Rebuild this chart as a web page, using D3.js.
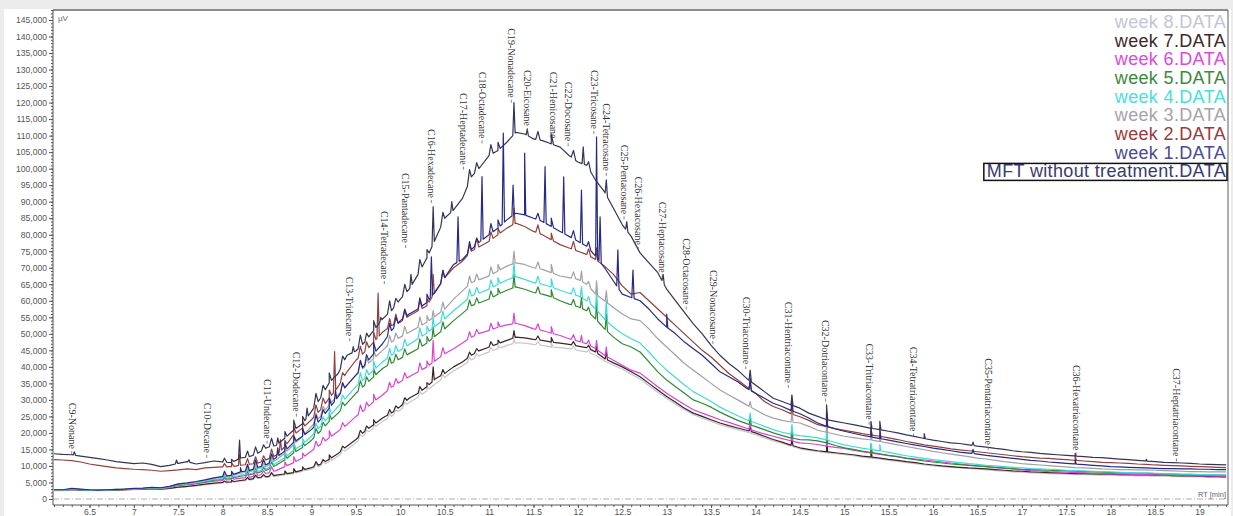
<!DOCTYPE html>
<html>
<head>
<meta charset="utf-8">
<script src="https://cdn.jsdelivr.net/npm/d3@7"></script>
<style>
body { margin: 0; background: #ececec; }
svg { display: block; }
</style>
</head>
<body>
<svg id="chart" width="1233" height="516"></svg>
<script>
// sampling grid of the traces (retention time, min)
const rtStart = 6.1, rtStep = 0.1;

// trace values, thousand uV, one every 0.1 min from 6.1 to 19.3
const mft = [13.7,13.5,13.4,13.0,12.6,12.2,11.8,11.3,11.0,10.7,
  10.9,10.5,9.8,10.2,10.8,11.3,10.6,11.0,11.5,11.2,
  11.0,12.4,12.8,13.9,15.6,16.2,18.4,20.9,22.8,26.5,
  30.5,35.2,38.0,43.5,44.8,47.5,51.0,54.5,57.0,60.5,
  63.5,68.0,73.0,79.0,85.0,87.5,91.0,97.5,100.5,104.0,
  105.5,108.0,111.0,110.5,109.0,108.5,107.5,106.5,104.0,102.0,
  101.0,96.5,93.0,88.0,83.0,79.5,74.5,71.5,68.5,63.5,
  60.0,56.5,53.0,50.0,46.5,43.5,41.0,39.0,36.5,34.5,
  32.5,30.5,29.5,28.5,27.5,26.0,25.0,24.0,23.5,23.0,
  22.5,22.0,21.4,21.0,20.5,20.0,19.4,18.9,18.3,17.8,
  17.4,17.0,16.8,16.4,16.0,15.7,15.3,15.0,14.6,14.3,
  14.1,13.8,13.6,13.4,13.2,13.0,12.8,12.6,12.5,12.3,
  12.1,11.9,11.7,11.5,11.3,11.1,11.0,10.9,10.8,10.6,
  10.5,10.4,10.3];
const week1 = [2.8,2.8,3.2,3.0,2.8,2.7,2.8,2.9,3.0,3.2,
  3.3,3.5,3.4,3.8,4.6,4.9,5.3,5.8,6.4,6.8,
  7.2,8.2,8.6,9.6,10.5,12.5,14.5,17.2,19.0,21.0,
  24.0,27.5,31.0,34.5,37.5,40.5,44.0,47.0,51.0,54.0,
  56.0,57.5,59.5,63.0,67.0,71.0,72.5,75.5,78.0,80.0,
  82.0,84.5,86.5,86.0,85.0,84.0,82.5,81.0,79.5,78.0,
  76.5,73.5,70.0,66.0,62.0,61.0,60.0,57.5,54.5,52.0,
  50.0,47.5,45.5,43.5,41.0,38.5,37.0,35.5,33.5,32.0,
  30.5,29.0,28.0,26.8,25.8,24.5,23.0,22.0,21.2,20.5,
  19.9,19.3,18.8,18.3,17.8,17.3,16.8,16.3,15.9,15.4,
  15.0,14.6,14.2,13.9,13.6,13.2,12.9,12.6,12.3,12.0,
  11.7,11.5,11.2,11.0,10.8,10.6,10.4,10.2,10.0,9.8,
  9.7,9.6,9.5,9.4,9.3,9.2,9.2,9.1,9.1,9.0,
  9.0,8.9,8.9];
const week2 = [11.9,11.8,11.6,11.2,10.6,10.2,9.8,9.4,9.2,9.0,
  8.9,8.7,8.4,8.6,8.8,9.1,8.9,9.4,9.6,9.7,
  9.8,10.2,10.5,10.9,12.0,13.2,15.8,19.5,21.5,24.0,
  27.0,30.5,34.0,38.5,42.0,44.5,47.5,50.5,52.5,53.5,
  55.5,57.0,58.5,63.0,67.0,70.0,72.0,75.0,76.5,78.0,
  80.0,82.0,83.5,82.5,81.0,80.0,78.5,77.0,76.0,75.0,
  74.0,72.5,70.5,68.0,64.5,62.0,62.5,60.0,57.5,55.0,
  52.5,50.0,47.5,45.0,43.0,40.5,38.0,36.0,34.0,32.0,
  29.5,28.0,27.0,25.8,24.9,23.8,22.5,21.9,21.3,20.8,
  20.3,19.8,19.4,19.0,18.5,18.0,17.4,16.9,16.4,16.0,
  15.6,15.2,14.9,14.6,14.3,14.0,13.7,13.4,13.1,12.8,
  12.6,12.4,12.3,12.1,11.9,11.7,11.5,11.3,11.1,11.0,
  10.9,10.8,10.6,10.5,10.3,10.2,10.1,10.0,9.9,9.8,
  9.7,9.6,9.5];
const week3 = [2.7,2.7,3.1,2.9,2.8,2.7,2.8,2.9,3.0,3.1,
  3.2,3.4,3.3,3.7,4.5,4.7,5.1,5.6,6.2,6.7,
  7.0,7.8,8.2,9.2,10.0,11.8,13.8,16.5,19.0,22.0,
  25.0,28.5,31.5,34.5,37.5,40.0,42.5,45.0,47.5,49.0,
  50.5,52.0,53.5,55.5,57.5,60.5,63.0,65.5,66.5,67.5,
  69.0,70.5,71.5,71.0,70.0,69.5,68.5,67.5,67.0,66.5,
  65.0,62.0,60.0,58.0,56.0,54.5,54.0,51.5,48.5,46.0,
  43.5,41.0,39.0,37.0,35.0,33.0,31.5,30.0,28.5,27.0,
  25.5,24.5,23.8,23.3,23.0,22.0,20.8,20.2,19.6,19.0,
  18.6,18.2,17.9,17.4,16.9,16.4,15.9,15.4,14.9,14.4,
  14.0,13.6,13.2,12.8,12.4,12.1,11.7,11.3,11.0,10.7,
  10.5,10.3,10.1,9.9,9.7,9.5,9.4,9.3,9.1,9.0,
  8.9,8.9,8.8,8.8,8.7,8.6,8.5,8.4,8.3,8.3,
  8.2,8.2,8.2];
const week4 = [2.6,2.6,3.0,2.8,2.7,2.6,2.7,2.8,2.9,3.0,
  3.1,3.3,3.2,3.6,4.4,4.6,4.9,5.4,5.9,6.2,
  6.5,7.2,7.6,8.4,9.2,10.8,12.5,14.8,16.5,19.0,
  22.0,25.0,28.0,31.0,34.0,36.5,39.0,41.5,43.5,45.0,
  46.8,48.5,50.2,52.5,54.5,57.0,59.2,61.5,62.5,63.5,
  65.0,66.3,67.3,66.5,65.5,65.0,64.2,63.2,62.3,61.5,
  60.0,57.5,54.5,52.0,50.0,48.5,47.2,44.5,41.5,39.0,
  36.8,34.5,32.5,31.0,29.5,27.8,26.5,25.2,24.0,23.0,
  22.0,21.0,20.2,19.6,19.2,18.9,18.5,17.9,17.1,16.4,
  15.9,15.4,15.0,14.6,14.1,13.6,13.1,12.7,12.3,11.9,
  11.6,11.3,11.0,10.7,10.5,10.2,10.0,9.8,9.6,9.4,
  9.2,9.1,9.0,8.9,8.7,8.6,8.5,8.4,8.3,8.2,
  8.1,8.0,7.9,7.9,7.8,7.7,7.6,7.5,7.5,7.4,
  7.4,7.3,7.3];
const week5 = [2.6,2.6,2.9,2.8,2.7,2.6,2.7,2.8,2.9,3.0,
  3.1,3.2,3.2,3.5,4.3,4.5,4.8,5.2,5.7,6.0,
  6.3,6.9,7.3,8.0,8.8,10.2,11.8,14.0,15.6,17.8,
  20.5,23.5,26.0,29.0,32.0,34.5,37.0,39.5,41.1,42.5,
  44.0,45.5,47.2,49.5,51.5,54.0,56.2,58.5,59.5,60.5,
  62.0,63.2,64.2,63.5,62.5,62.0,61.2,60.0,59.0,58.2,
  57.0,54.5,51.5,49.0,47.0,46.0,44.5,41.5,38.5,36.0,
  34.0,32.0,30.0,29.0,27.8,26.3,25.0,23.8,22.8,21.9,
  21.0,20.0,19.2,18.5,18.0,17.9,17.6,17.0,16.2,15.5,
  15.0,14.5,14.1,13.7,13.2,12.8,12.3,11.9,11.5,11.2,
  10.9,10.6,10.4,10.2,10.0,9.8,9.6,9.4,9.2,9.0,
  8.9,8.8,8.7,8.6,8.5,8.4,8.3,8.2,8.1,8.0,
  7.9,7.9,7.8,7.8,7.7,7.6,7.5,7.4,7.4,7.3,
  7.3,7.2,7.2];
const week6 = [2.6,2.6,2.9,2.8,2.7,2.6,2.7,2.8,2.9,3.0,
  3.1,3.2,3.1,3.4,4.1,4.3,4.6,5.0,5.4,5.6,
  5.9,6.3,6.6,7.2,7.8,8.6,9.8,11.0,12.5,14.5,
  16.5,18.5,20.5,22.5,25.0,27.0,29.5,31.5,33.8,35.5,
  37.0,38.5,40.0,42.0,44.0,45.5,47.2,49.0,50.2,51.0,
  52.0,52.7,53.2,52.5,51.5,51.0,50.2,49.5,48.5,47.8,
  47.0,45.5,43.5,42.0,40.5,39.0,38.1,36.0,34.0,32.0,
  30.3,28.6,27.0,26.0,25.0,24.0,23.2,22.3,21.4,20.5,
  19.7,19.0,18.3,17.6,17.0,16.8,16.5,16.0,15.6,15.3,
  14.8,14.3,13.9,13.5,13.1,12.8,12.4,12.1,11.8,11.5,
  11.2,10.9,10.6,10.3,10.0,9.8,9.5,9.3,9.1,8.8,
  8.6,8.5,8.3,8.2,8.1,8.0,7.9,7.8,7.7,7.6,
  7.5,7.5,7.4,7.4,7.3,7.2,7.2,7.1,7.1,7.0,
  7.0,6.9,6.9];
const week7 = [2.6,2.6,2.9,2.7,2.6,2.6,2.7,2.7,2.8,2.9,
  3.0,3.1,3.0,3.2,3.6,3.8,4.1,4.5,4.8,5.0,
  5.2,5.6,5.9,6.5,6.8,7.2,7.6,8.0,8.8,9.5,
  10.5,12.0,13.8,16.0,18.0,20.5,22.5,24.5,26.0,28.0,
  30.5,32.0,34.0,36.5,38.0,40.0,41.5,43.5,45.0,46.0,
  47.0,48.0,49.0,48.8,48.3,48.0,47.5,47.2,46.8,46.3,
  45.8,44.5,42.5,41.2,40.0,38.5,37.0,35.0,33.0,31.0,
  29.3,27.5,26.0,25.0,24.0,23.0,22.2,21.5,20.8,20.0,
  19.0,18.0,17.2,16.3,15.5,15.0,14.6,14.3,14.0,13.7,
  13.4,13.0,12.7,12.4,12.0,11.7,11.3,11.0,10.6,10.3,
  10.0,9.8,9.6,9.4,9.3,9.1,8.9,8.7,8.5,8.4,
  8.2,8.1,8.0,7.9,7.8,7.7,7.7,7.6,7.5,7.5,
  7.4,7.4,7.3,7.3,7.2,7.2,7.1,7.0,7.0,6.9,
  6.8,6.8,6.7];
const week8 = [2.5,2.5,2.8,2.6,2.5,2.5,2.6,2.6,2.7,2.8,
  2.9,3.0,2.9,3.1,3.5,3.7,4.0,4.3,4.6,4.8,
  5.0,5.4,5.7,6.2,6.5,6.9,7.3,7.7,8.4,9.0,
  10.0,11.3,13.0,15.0,17.0,19.5,21.5,23.5,25.0,27.0,
  29.2,30.8,32.8,35.0,36.8,38.8,40.3,42.1,43.5,44.5,
  45.5,46.5,47.3,47.2,46.8,46.5,46.0,45.8,45.5,45.0,
  44.5,43.5,41.8,40.5,39.3,37.8,36.3,34.3,32.3,30.4,
  28.7,27.0,25.5,24.5,23.5,22.5,21.7,21.0,20.3,19.5,
  18.5,17.6,16.8,16.0,15.2,14.7,14.3,14.0,13.7,13.4,
  13.1,12.7,12.4,12.1,11.7,11.4,11.0,10.7,10.3,10.0,
  9.8,9.6,9.4,9.2,9.0,8.8,8.6,8.4,8.2,8.1,
  7.9,7.8,7.7,7.6,7.5,7.4,7.4,7.3,7.2,7.2,
  7.1,7.1,7.0,7.0,6.9,6.9,6.8,6.8,6.7,6.7,
  6.6,6.6,6.5];

// sharp peaks: [retention time, apex in thousand uV]
const mftPeaks = [[6.33,14.3],[7.48,11.8],[7.62,11.9],[8.19,17.8],[8.62,18.5],[8.95,27.5],[9.47,46.1],
  [9.78,55.0],[10.12,68.0],[10.37,88.5],[10.58,90.0],[11.28,120.0],[11.43,112.0],[12.06,106.6],
  [12.32,96.6],[12.55,84.0],[12.96,68.0],[13.94,39.0],[14.41,31.5],[14.8,28.5],[15.3,23.5],
  [15.4,23.5],[15.9,19.8],[16.45,17.2],[17.6,13.8],[18.4,12.0]];
const week1Peaks = [[8.2,9.5],[8.62,15.5],[9.27,33.0],[10.35,73.3],[10.65,85.4],[10.92,97.6],
  [11.16,110.8],[11.27,95.0],[11.4,104.7],[11.63,100.6],[11.84,97.5],[12.04,93.5],[12.21,109.6],
  [12.25,85.4],[12.45,75.4],[12.62,69.3],[13.0,56.0],[13.94,36.5],[14.41,30.0],[14.8,26.0],
  [15.3,21.5],[15.4,21.5],[16.45,15.0],[17.6,11.8]];
const week2Peaks = [[8.19,13.5],[8.65,18.0],[9.26,44.6],[9.75,62.3],[10.37,68.0],[11.28,88.0],
  [12.21,76.0],[13.94,35.5],[14.41,28.5],[14.8,25.5],[15.3,21.5],[17.6,13.2]];
const week3Peaks = [[10.37,57.0],[11.28,75.0],[12.04,69.0],[12.21,66.0],[12.32,63.0],[13.94,29.5],
  [14.41,26.0],[14.8,24.5],[15.3,20.0],[15.4,19.5]];
const week4Peaks = [[10.37,55.0],[11.28,71.5],[12.04,64.2],[12.21,63.3],[12.32,60.2],[13.94,26.0],
  [14.41,22.5],[14.8,22.5],[15.3,17.0],[15.4,16.5]];
const week5Peaks = [[10.37,52.0],[11.28,68.0],[12.04,61.0],[12.21,60.2],[12.32,56.0],[13.94,24.5],
  [14.41,21.0],[14.8,21.5],[15.3,16.5]];
const week6Peaks = [[10.37,48.0],[11.28,56.3],[12.04,49.5],[12.21,48.0],[12.32,46.0],[13.94,23.0],
  [14.41,19.5],[14.8,20.5],[15.3,16.0]];
const week7Peaks = [[10.37,40.0],[11.28,51.0],[12.21,46.5],[12.32,44.5],[13.94,22.0],[14.41,18.0],
  [14.8,19.0],[15.3,15.0]];
const week8Peaks = [[11.28,48.5],[14.41,16.5],[14.8,17.5]];

// small unresolved humps riding on each trace: shared times, height above trace (thousand uV)
const minorRT = [8.02,8.1,8.28,8.37,8.46,8.55,8.7,8.8,8.9,9.05,9.13,9.2,9.35,9.55,9.62,9.7,9.88,9.95,
  10.05,10.22,10.3,10.48,10.78,10.86,11.02,11.1,11.55,11.7,11.95,12.12];
const mftBumps = [1.2,1.0,1.8,2.2,1.5,2.5,2.0,3.0,2.2,3.5,2.5,3.0,2.5,3.5,2.0,3.0,3.5,2.0,3.0,3.5,2.5,3.0,3.5,2.5,3.0,2.5,2.5,3.0,2.5,2.0];
const week1Bumps = [1.5,1.2,2.0,2.5,1.8,2.2,2.5,2.0,2.5,3.0,2.0,3.0,2.5,3.0,2.5,3.5,3.0,2.5,2.5,3.0,2.5,3.0,3.0,2.0,3.0,2.5,2.0,2.5,2.5,2.0];
const week2Bumps = [1.0,1.2,1.8,2.0,1.5,2.5,2.0,2.5,2.0,3.0,2.5,2.5,2.0,3.0,2.5,3.0,2.5,3.0,2.5,3.0,2.0,3.0,2.5,3.0,2.5,2.0,2.5,2.0,2.5,2.0];
const week3Bumps = [0.8,1.0,1.5,1.8,1.2,2.0,1.8,2.2,1.8,2.5,2.0,2.5,2.0,2.8,2.2,2.5,2.5,2.0,2.5,2.8,2.0,2.5,2.5,2.0,2.5,2.0,2.0,2.5,2.0,1.5];
const week4Bumps = [0.8,1.0,1.5,1.8,1.2,2.0,1.8,2.5,1.8,2.5,2.0,2.8,2.0,3.0,2.2,2.8,2.5,2.2,2.5,3.0,2.2,2.8,2.5,2.0,2.5,2.0,2.2,2.5,2.0,1.8];
const week5Bumps = [0.7,0.9,1.3,1.6,1.1,1.8,1.6,2.2,1.6,2.2,1.8,2.5,1.8,2.6,2.0,2.5,2.2,2.0,2.2,2.6,2.0,2.5,2.2,1.8,2.2,1.8,2.0,2.2,1.8,1.6];
const week6Bumps = [0.6,0.8,1.1,1.4,1.0,1.6,1.4,1.8,1.4,2.0,1.6,2.2,1.6,2.4,1.8,2.2,2.0,1.8,2.0,2.4,1.8,2.2,2.0,1.6,2.0,1.6,1.8,2.0,1.6,1.4];
const week7Bumps = [0.4,0.5,0.7,0.9,0.7,1.0,0.9,1.2,0.9,1.3,1.0,1.4,1.1,1.5,1.2,1.5,1.4,1.2,1.4,1.6,1.2,1.5,1.4,1.1,1.4,1.1,1.2,1.4,1.1,1.0];
const week8Bumps = [0.3,0.4,0.6,0.8,0.6,0.9,0.8,1.0,0.8,1.1,0.9,1.2,0.9,1.3,1.0,1.3,1.2,1.0,1.2,1.4,1.0,1.3,1.2,1.0,1.2,1.0,1.0,1.2,1.0,0.9];

// legend order, top to bottom
const seriesNames = ["week 8.DATA","week 7.DATA","week 6.DATA","week 5.DATA","week 4.DATA",
  "week 3.DATA","week 2.DATA","week 1.DATA","MFT without treatment.DATA"];
const seriesValues = [week8,week7,week6,week5,week4,week3,week2,week1,mft];
const seriesPeaks = [week8Peaks,week7Peaks,week6Peaks,week5Peaks,week4Peaks,week3Peaks,week2Peaks,week1Peaks,mftPeaks];
const seriesBumps = [week8Bumps,week7Bumps,week6Bumps,week5Bumps,week4Bumps,week3Bumps,week2Bumps,week1Bumps,mftBumps];
const seriesColors = ["#c6c6cc","#3d2424","#d844d4","#2f8a34","#3edcd6","#a2a0a4","#93403a","#272a86","#343458"];
const legendColors = ["#c4c4d4","#3c2828","#e048dc","#3a8a3a","#48e0d8","#a8a2a8","#a03838","#4a4a90","#3a3a70"];

// compound annotations: name, retention time, value at top of label (uV)
const compounds = ["C9-Nonane","C10-Decane","C11-Undecane","C12-Dodecane","C13-Tridecane","C14-Tetradecane",
  "C15-Pantadecane","C16-Hexadecane","C17-Heptadecane","C18-Octadecane","C19-Nonadecane","C20-Eicosane",
  "C21-Henicosane","C22-Docosane","C23-Tricosane","C24-Tetracosane","C25-Pentacosane","C26-Hexacosane",
  "C27-Heptacosane","C28-Octacosane","C29-Nonacosane","C30-Triacontane","C31-Hentriacontane",
  "C32-Dotriacontane","C33-Tritriacontane","C34-Tetratriacontane","C35-Pentatriacontane",
  "C36-Hexatriacontane","C37-Heptatriacontane"];
const compoundRT = [6.30,7.82,8.50,8.83,9.43,9.82,10.06,10.35,10.71,10.92,11.25,11.43,11.72,11.89,12.18,
  12.32,12.52,12.68,12.95,13.22,13.52,13.89,14.37,14.79,15.28,15.78,16.62,17.61,18.74];
const compoundTop = [29100,29100,36300,44600,67300,87200,98700,112000,122900,129300,142500,129900,129300,
  126300,129900,119800,107200,97600,90000,78900,69300,61200,59700,54200,47100,46100,42600,40600,39600];

const xTicks = d3.range(13, 39).map(d => d / 2);   // 6.5 ... 19
const yTicks = d3.range(0, 145001, 5000);

let svg = d3.select("#chart");
let plotLeft = 53, plotRight = 1228, plotTop = 10, plotBottom = 505;

let x = d3.scaleLinear().domain([6.5, 19]).range([89.5, 1199.5]);
let y = d3.scaleLinear().domain([0, 145000]).range([499, 20]);

svg.append("rect").attr("x", 4).attr("y", 9).attr("width", 1227).attr("height", 507).attr("fill", "#fff");

svg.append("defs").append("clipPath").attr("id", "plotclip")
  .append("rect").attr("x", plotLeft).attr("y", plotTop)
  .attr("width", plotRight - plotLeft).attr("height", plotBottom - plotTop);

// frame
svg.append("line").attr("x1", plotLeft).attr("x2", plotRight).attr("y1", plotTop).attr("y2", plotTop)
  .attr("stroke", "#666").attr("stroke-width", 1.5);
svg.append("line").attr("x1", plotRight).attr("x2", plotRight).attr("y1", plotTop).attr("y2", plotBottom)
  .attr("stroke", "#777").attr("stroke-width", 1.2);

// zero line
svg.append("line").attr("x1", plotLeft).attr("x2", plotRight).attr("y1", y(0)).attr("y2", y(0))
  .attr("stroke", "#999").attr("stroke-dasharray", "6,2,1,2").attr("stroke-width", 0.8);

// axes
let yMinor = svg.append("g").attr("transform", `translate(${plotLeft},0)`)
  .call(d3.axisLeft(y).tickValues(d3.range(0, 148001, 1000)).tickSize(2).tickFormat(""));
let yAxis = svg.append("g").attr("transform", `translate(${plotLeft},0)`)
  .call(d3.axisLeft(y).tickValues(yTicks).tickSize(4).tickPadding(2).tickFormat(d3.format(",")));
let xMinor = svg.append("g").attr("transform", `translate(0,${plotBottom})`)
  .call(d3.axisBottom(x).tickValues(d3.range(61, 194).map(d => d / 10)).tickSize(2).tickFormat(""));
let xAxis = svg.append("g").attr("transform", `translate(0,${plotBottom})`)
  .call(d3.axisBottom(x).tickValues(xTicks).tickSize(3).tickPadding(1).tickFormat(d => d));

[yMinor, yAxis, xMinor, xAxis].forEach(g => {
  g.selectAll("path").attr("stroke", "#555");
  g.selectAll("line").attr("stroke", "#555");
  g.selectAll("text").attr("fill", "#555").style("font-family", "'Liberation Sans', Arial, sans-serif")
    .style("font-size", "8.6px");
});
xAxis.select(".domain").attr("d", `M${plotLeft},0H${plotRight}`);
xMinor.select(".domain").remove();
yMinor.select(".domain").remove();
yAxis.select(".domain").attr("d", `M0,${plotBottom}V${plotTop}`);

svg.append("text").attr("x", plotLeft + 5).attr("y", 21).text("µV")
  .attr("fill", "#666").style("font-family", "'Liberation Sans', Arial, sans-serif").style("font-size", "8px");
svg.append("text").attr("x", plotRight - 2).attr("y", 497).attr("text-anchor", "end").text("RT [min]")
  .attr("fill", "#666").style("font-family", "'Liberation Sans', Arial, sans-serif").style("font-size", "7.5px");

// traces
function baseAt(values, t) {
  let p = (t - rtStart) / rtStep;
  let i = Math.max(0, Math.min(values.length - 2, Math.floor(p)));
  let f = p - i;
  return values[i] * (1 - f) + values[i + 1] * f;
}

function tracePoints(values, peaks, bumps) {
  let pts = values.map((v, i) => [rtStart + i * rtStep, v]);
  function addPeak(t, apex, w) {
    pts.push([t - w, baseAt(values, t - w)]);
    pts.push([t, apex]);
    pts.push([t + w, baseAt(values, t + w)]);
  }
  peaks.forEach(p => addPeak(p[0], p[1], 0.013));
  minorRT.forEach((t, j) => addPeak(t, baseAt(values, t) + bumps[j], 0.025));
  return pts.sort((a, b) => a[0] - b[0]);
}

let line = d3.line().x(d => x(d[0])).y(d => y(d[1] * 1000));

svg.append("g").attr("clip-path", "url(#plotclip)")
  .selectAll("path")
  .data(seriesValues.map((v, i) => ({ pts: tracePoints(v, seriesPeaks[i], seriesBumps[i]), color: seriesColors[i] })))
  .enter().append("path")
  .attr("d", d => line(d.pts))
  .attr("fill", "none")
  .attr("stroke", d => d.color)
  .attr("stroke-width", 1.2)
  .attr("stroke-linejoin", "round");

// compound labels
let lab = svg.append("g").selectAll("g").data(compounds).enter().append("g")
  .attr("transform", (d, i) => `translate(${x(compoundRT[i])},${y(compoundTop[i])}) rotate(90)`);
lab.append("text")
  .attr("dy", "0.32em")
  .text(d => d)
  .attr("fill", "#333")
  .style("font-family", "'Liberation Serif', 'Times New Roman', serif")
  .style("font-size", "10px");
lab.each(function () {
  let g = d3.select(this);
  let w = g.select("text").node().getComputedTextLength();
  g.append("line").attr("x1", w + 2).attr("x2", w + 5).attr("y1", 0).attr("y2", 0)
    .attr("stroke", "#666").attr("stroke-width", 0.8);
});

// legend
let legend = svg.append("g");
legend.selectAll("text").data(seriesNames).enter().append("text")
  .attr("x", 1226)
  .attr("y", (d, i) => 21.5 + i * 18.7)
  .attr("dy", "0.35em")
  .attr("text-anchor", "end")
  .text(d => d)
  .attr("fill", (d, i) => legendColors[i])
  .style("font-family", "'Liberation Sans', Arial, sans-serif")
  .style("font-size", "18px")
  .style("letter-spacing", "0.35px");
let lastText = legend.selectAll("text").nodes()[seriesNames.length - 1];
let bb = lastText.getBBox();
legend.append("rect")
  .attr("x", bb.x - 3).attr("y", bb.y + 2).attr("width", bb.width + 4).attr("height", bb.height - 3)
  .attr("fill", "none").attr("stroke", "#111").attr("stroke-width", 1.5);
</script>
</body>
</html>
